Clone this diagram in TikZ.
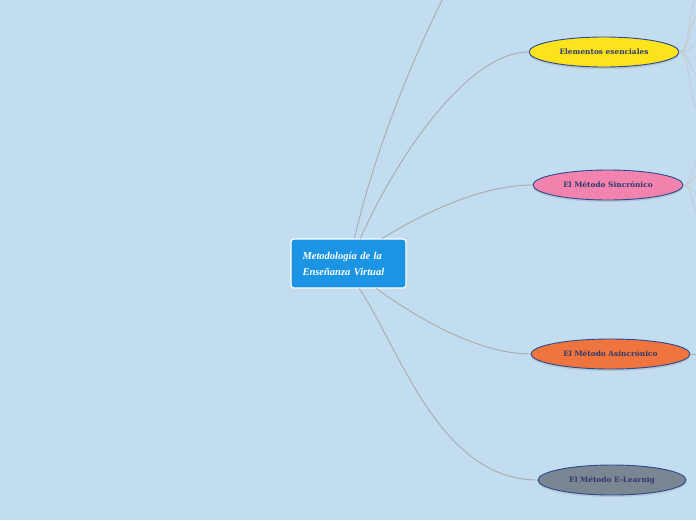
\documentclass[tikz,border=0pt]{standalone}
\usepackage{fontspec}
\setmainfont{Liberation Serif}
\newfontfamily\topicfont{DejaVu Serif}
\usetikzlibrary{shapes.geometric,shadows,calc}
\definecolor{bg}{HTML}{C3DDF0}
\definecolor{cblue}{HTML}{1B95E3}
\definecolor{edge}{HTML}{2B4A8E}
\definecolor{txt}{HTML}{2E3A6E}
\definecolor{lnk}{HTML}{A9ABAD}
\definecolor{fan}{HTML}{C4C8CC}
\definecolor{yel}{HTML}{FCE31B}
\definecolor{pink}{HTML}{F283AE}
\definecolor{orng}{HTML}{F0743D}
\definecolor{gry}{HTML}{7A8691}
\tikzset{
  central/.style={rectangle, rounded corners=3pt, fill=cblue, draw=white, line width=1.2pt,
    minimum width=115pt, minimum height=49pt, inner sep=0pt, text=white, align=left,
    text width=92pt,
    font=\fontsize{10.5}{16}\selectfont\itshape\bfseries},
  topic/.style={ellipse, draw=edge, line width=0.9pt, minimum height=30pt, inner sep=0pt,
    text=txt, font=\topicfont\fontsize{7.4}{9}\selectfont\bfseries,
    drop shadow={shadow xshift=0pt, shadow yshift=-2pt, opacity=0.25}},
  link/.style={draw=lnk, line width=0.9pt},
  fanlink/.style={draw=fan, line width=0.7pt}
}
\begin{document}
\begin{tikzpicture}[x=1pt,y=-1pt]
\useasboundingbox[fill=bg] (0,0) rectangle (696,520);
\node[central] (c) at (348.5,263.5) {Metodología de la\\Enseñanza Virtual};
\node[topic, fill=yel, minimum width=150pt] (e1) at (604,52) {Elementos esenciales};
\node[topic, fill=pink, minimum width=150pt] (e2) at (608,185) {El Método Sincrónico};
\node[topic, fill=orng, minimum width=159pt] (e3) at (610.5,354) {El Método Asincrónico};
\node[topic, fill=gry, minimum width=148pt] (e4) at (612,480) {El Método E-Learnig};
\coordinate (up) at (455,-25);
% connectors
\draw[link] ($(c.north west)+(64,0)$) .. controls (375,150) and (415,50) .. (up);
\draw[link] ($(c.north west)+(70,0)$) .. controls (400,150) and (470,52) .. (e1.west);
\draw[link] ($(c.north west)+(92,0)$) .. controls (420,215) and (480,185) .. (e2.west);
\draw[link] ($(c.south west)+(86,0)$) .. controls (420,320) and (480,354) .. (e3.west);
\draw[link] ($(c.south west)+(69,0)$) .. controls (400,350) and (440,480) .. (e4.west);
% right fans
\coordinate (f1) at (700,-5);
\coordinate (f2) at (700,15);
\coordinate (f3) at (700,45);
\coordinate (f4) at (700,75);
\coordinate (f5) at (700,110);
\foreach \f in {f1,f2,f3,f4,f5}
  \draw[fanlink] (e1.east) .. controls ($(e1.east)+(12,0)$) and ($(\f)+(-12,0)$) .. (\f);
\coordinate (g1) at (700,160);
\coordinate (g2) at (700,175);
\coordinate (g3) at (700,195);
\coordinate (g4) at (700,215);
\foreach \g in {g1,g2,g3,g4}
  \draw[fanlink] (e2.east) .. controls ($(e2.east)+(10,0)$) and ($(\g)+(-8,0)$) .. (\g);
\coordinate (h1) at (700,354);
\draw[link] (e3.east) -- (h1);
\end{tikzpicture}
\end{document}
